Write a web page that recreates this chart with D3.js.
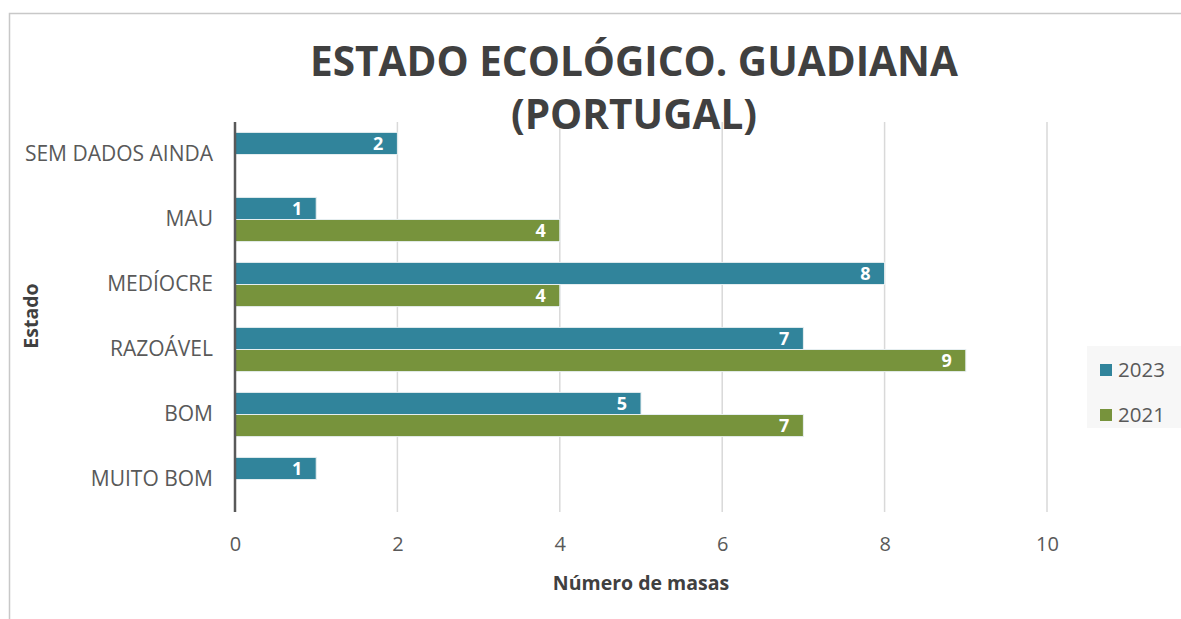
<!DOCTYPE html>
<html>
<head>
<meta charset="utf-8">
<script src="https://cdn.jsdelivr.net/npm/d3@7"></script>
<style>
  body { margin: 0; background: #fff; }
  svg { display: block; font-family: "Open Sans", "DejaVu Sans", sans-serif; }
</style>
</head>
<body>
<div class="chart-container"></div>
<script>
// data
const categories = ['SEM DADOS AINDA', 'MAU', 'MEDÍOCRE', 'RAZOÁVEL', 'BOM', 'MUITO BOM'];
const seriesNames = ['2023', '2021'];
const values2023 = [2, 1, 8, 7, 5, 1];
const values2021 = [null, 4, 4, 9, 7, null];
const xTicks = [0, 2, 4, 6, 8, 10];
const colors = ['#31849B', '#77933C'];

const W = 1181, H = 619;
const margin = {top: 122, right: 134, bottom: 107, left: 235};
const width = W - margin.left - margin.right;
const height = H - margin.top - margin.bottom;

const svg = d3.select('.chart-container')
  .append('svg')
  .attr('width', W)
  .attr('height', H);

// outer frame
svg.append('rect')
  .attr('x', 9.5).attr('y', 13.5)
  .attr('width', W).attr('height', H)
  .attr('fill', 'none')
  .attr('stroke', '#c8c8c8')
  .attr('stroke-width', 1.5);

const chart = svg.append('g')
  .attr('transform', 'translate(' + margin.left + ',' + margin.top + ')');

const xScale = d3.scaleLinear().domain([0, 10]).range([0, 812]);
const yScale = d3.scaleBand().domain(categories).range([0, height]).paddingInner(0.32).paddingOuter(0.16);
const sub = d3.scaleBand().domain(seriesNames).range([0, yScale.bandwidth()]);

// gridlines
chart.append('g').selectAll('line')
  .data(xTicks.slice(1)).enter()
  .append('line')
  .attr('x1', d => xScale(d)).attr('x2', d => xScale(d))
  .attr('y1', 0).attr('y2', height)
  .attr('stroke', '#d9d9d9')
  .attr('stroke-width', 1.5);

// x axis labels
const xAxis = d3.axisBottom(xScale).tickValues(xTicks).tickSize(0).tickPadding(25);
chart.append('g')
  .attr('class', 'x-axis')
  .attr('transform', 'translate(0,' + height + ')')
  .call(xAxis)
  .attr('font-family', null)
  .attr('font-size', null)
  .call(g => g.select('.domain').remove())
  .selectAll('text')
  .style('font-size', '20px')
  .attr('fill', '#595959');

// y axis labels
const yAxis = d3.axisLeft(yScale).tickSize(0).tickPadding(22);
chart.append('g')
  .attr('class', 'y-axis')
  .call(yAxis)
  .attr('font-family', null)
  .attr('font-size', null)
  .call(g => g.select('.domain').remove())
  .selectAll('text')
  .style('font-size', '21px')
  .attr('fill', '#595959');

// bars
const rows = categories.map((c, i) => ({
  cat: c,
  values: [
    {series: '2023', value: values2023[i], color: colors[0]},
    {series: '2021', value: values2021[i], color: colors[1]}
  ].filter(v => v.value !== null)
}));

const groups = chart.append('g').selectAll('g')
  .data(rows).enter()
  .append('g')
  .attr('transform', d => 'translate(0,' + yScale(d.cat) + ')');

groups.selectAll('rect')
  .data(d => d.values).enter()
  .append('rect')
  .attr('x', xScale(0))
  .attr('y', d => sub(d.series))
  .attr('width', d => xScale(d.value) - xScale(0))
  .attr('height', sub.bandwidth())
  .attr('fill', d => d.color)
  .attr('stroke', '#e6eef0')
  .attr('stroke-width', 1);

groups.selectAll('text')
  .data(d => d.values).enter()
  .append('text')
  .attr('x', d => xScale(d.value) - 14)
  .attr('y', d => sub(d.series) + sub.bandwidth() / 2)
  .attr('dy', '0.36em')
  .attr('text-anchor', 'end')
  .attr('fill', '#fff')
  .style('font-size', '18px')
  .style('font-weight', 'bold')
  .text(d => d.value);

// vertical axis line
chart.append('line')
  .attr('x1', xScale(0)).attr('x2', xScale(0))
  .attr('y1', 0).attr('y2', height)
  .attr('stroke', '#595959')
  .attr('stroke-width', 2.5);

// title
svg.append('text')
  .attr('x', 634).attr('y', 76)
  .attr('text-anchor', 'middle')
  .attr('fill', '#404040')
  .style('font-size', '40.5px')
  .style('font-weight', 'bold')
  .text('ESTADO ECOLÓGICO. GUADIANA');
svg.append('text')
  .attr('x', 634).attr('y', 129)
  .attr('text-anchor', 'middle')
  .attr('fill', '#404040')
  .style('font-size', '40.5px')
  .style('font-weight', 'bold')
  .text('(PORTUGAL)');

// axis titles
svg.append('text')
  .attr('x', margin.left + xScale(5)).attr('y', 590)
  .attr('text-anchor', 'middle')
  .attr('fill', '#404040')
  .style('font-size', '19.5px')
  .style('font-weight', 'bold')
  .text('Número de masas');
svg.append('text')
  .attr('transform', 'translate(38,' + (margin.top + height / 2 - 1) + ') rotate(-90)')
  .attr('text-anchor', 'middle')
  .attr('fill', '#404040')
  .style('font-size', '19.5px')
  .style('font-weight', 'bold')
  .text('Estado');

// legend
const legend = svg.append('g').attr('transform', 'translate(1087,346)');
legend.append('rect')
  .attr('width', 94).attr('height', 82)
  .attr('fill', '#f7f7f7');
const items = legend.selectAll('g.item')
  .data(seriesNames).enter()
  .append('g')
  .attr('class', 'item')
  .attr('transform', (d, i) => 'translate(13,' + (24 + i * 45) + ')');
items.append('rect')
  .attr('x', 0).attr('y', -6)
  .attr('width', 12).attr('height', 12)
  .attr('fill', (d, i) => colors[i]);
items.append('text')
  .attr('x', 18).attr('dy', '0.36em')
  .attr('fill', '#595959')
  .style('font-size', '20.5px')
  .text(d => d);
</script>
</body>
</html>
